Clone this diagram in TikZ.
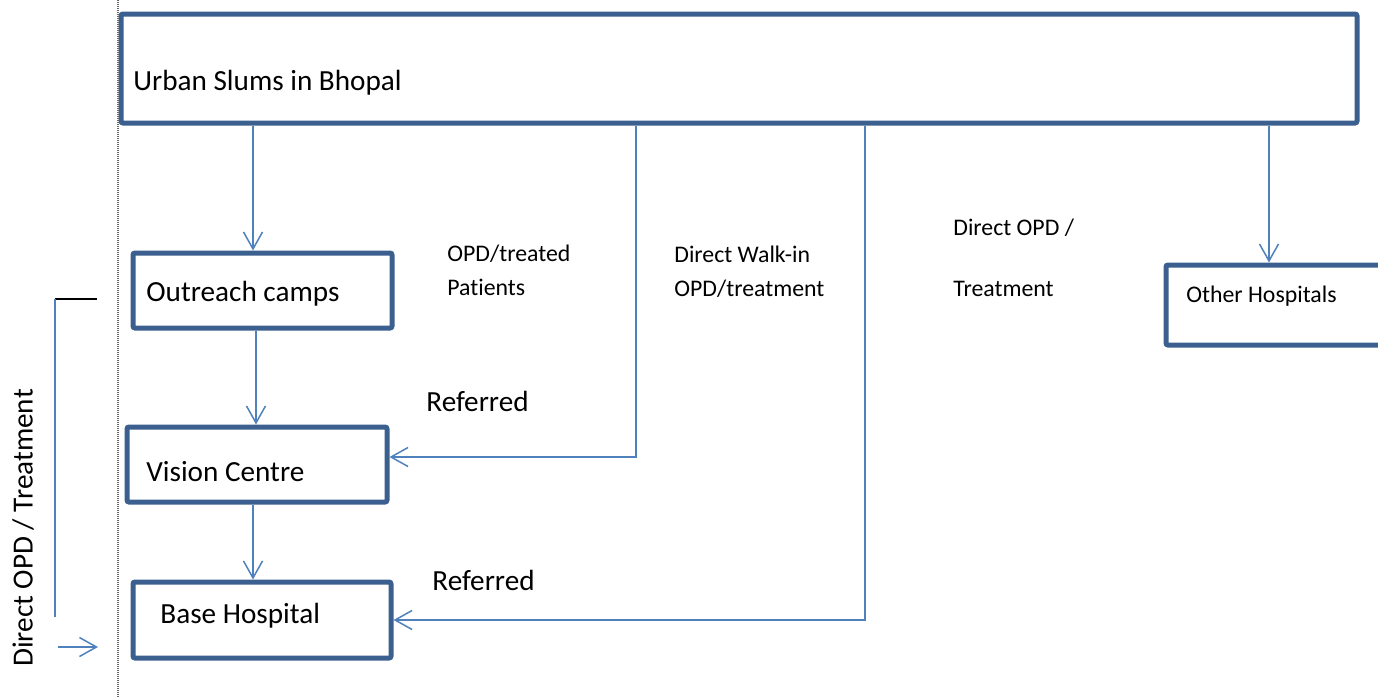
\documentclass[tikz,border=0pt]{standalone}
\usepackage{fontspec}
\setmainfont{Carlito}[Ligatures={NoCommon}]
\usepackage{tikz}
\usetikzlibrary{arrows.meta}

\definecolor{boxblue}{RGB}{59,95,142}
\definecolor{lineblue}{RGB}{79,129,189}

\begin{document}
\begin{tikzpicture}[x=0.5pt,y=-0.5pt,
  box/.style={draw=boxblue,line width=2.5pt,rounded corners=1pt,minimum height=37.5pt,inner sep=0pt},
  bigtext/.style={anchor=west,inner sep=0pt,font=\fontsize{14.6}{17}\selectfont},
  smalltext/.style={anchor=west,inner sep=0pt,align=left,font=\fontsize{11.9}{17}\selectfont},
  arr/.style={draw=lineblue,line width=0.75pt,-{Straight Barb[length=8.5pt,width=9.5pt]}},
  link/.style={draw=lineblue,line width=0.75pt}]
  \clip (0,0) rectangle (1378,697);
  % boxes
  \node[box,minimum width=618pt,minimum height=54.5pt] (urban) at (739,68.5) {};
  \node[box,minimum width=129.5pt] (outreach) at (262.5,290.5) {};
  \node[box,minimum width=130pt] (vision) at (257,464.5) {};
  \node[box,minimum width=129pt,minimum height=38pt] (base) at (262,620) {};
  \node[box,minimum width=120pt,minimum height=40pt] (other) at (1286,305) {};
  % box texts
  \node[bigtext] (urbantext) at (133,83) {Urban Slums in Bhopal};
  \node[bigtext] (outreachtext) at (146,294) {Outreach camps};
  \node[bigtext] (visiontext) at (146,472) {Vision Centre};
  \node[bigtext] (basetext) at (160,616) {Base Hospital};
  \node[smalltext] (othertext) at (1186,296) {Other Hospitals};
  % labels
  \node[smalltext] (treated) at (447,270) {OPD/treated\\Patients};
  \node[smalltext] (walkin) at (674,272) {Direct Walk-in\\OPD/treatment};
  \node[smalltext] (directopd) at (953,257.5) {Direct OPD /\\[13.5pt]Treatment};
  \node[bigtext] (referred1) at (426,401) {Referred};
  \node[bigtext] (referred2) at (432,580) {Referred};
  \node[bigtext,anchor=center,rotate=90] (sidetext) at (23,528) {Direct OPD / Treatment};
  % connectors
  \draw[arr] (253,0 |- urban.south) -- (253,0 |- outreach.north);
  \draw[arr] (256,0 |- outreach.south) -- (256,0 |- vision.north);
  \draw[arr] (253,0 |- vision.south) -- (253,0 |- base.north);
  \draw[arr] (636,0 |- urban.south) -- (636,457) -- (636,457 -| vision.east);
  \draw[arr] (865,0 |- urban.south) -- (865,0 |- base.east) -- (base.east);
  \draw[arr] (1269,0 |- urban.south) -- (1269,0 |- other.north);
  % left side
  \coordinate (sidetop) at (55,299);
  \coordinate (sidetick) at (97,299);
  \coordinate (sidebottom) at (55,617);
  \coordinate (sidefrom) at (58,647);
  \coordinate (sideto) at (98,647);
  \draw[black!60,dash pattern=on 0.5pt off 0.5pt,line width=0.6pt] (118,0) -- (118,697);
  \draw[black,line width=0.75pt] (sidetick) -- (sidetop);
  \draw[link] (sidetop) -- (sidebottom);
  \draw[arr] (sidefrom) -- (sideto);
\end{tikzpicture}
\end{document}
